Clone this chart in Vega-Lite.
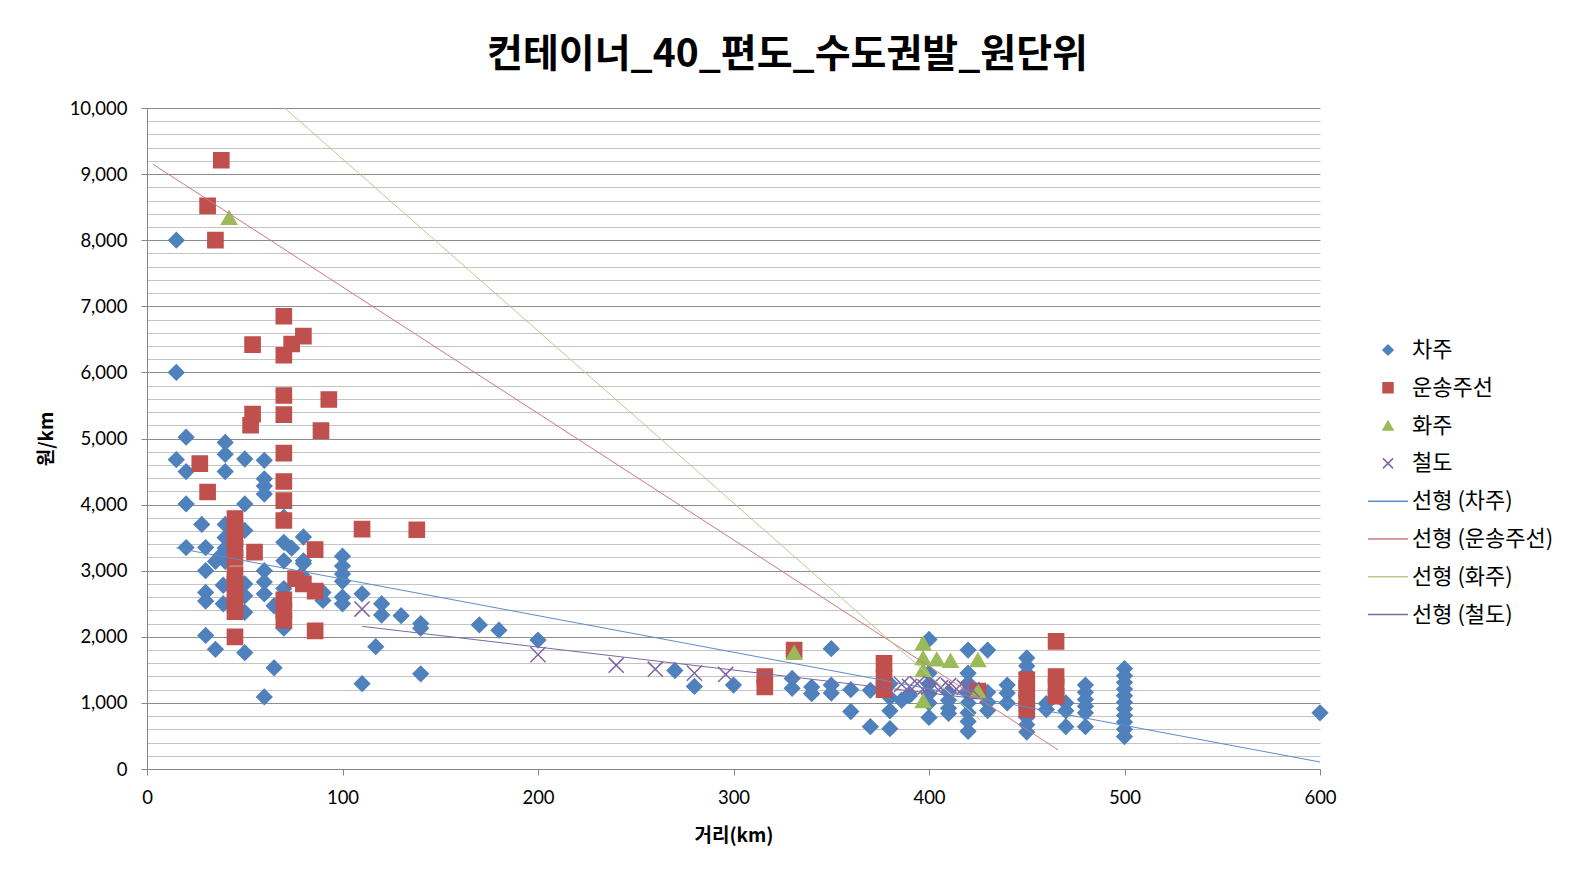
{
"$schema": "https://vega.github.io/schema/vega-lite/v6.json",
"width": 1173, "height": 661,
"autosize": {"type": "none"},
"padding": {"left": 147, "top": 108, "right": 256, "bottom": 108},
"background": "white",
"title": {"text": "컨테이너_40_편도_수도권발_원단위", "font": "Noto Sans CJK KR", "fontSize": 39, "fontWeight": "bold", "color": "#000000", "anchor": "middle", "dx": 54, "offset": 24},
"config": {
  "view": {"stroke": null},
  "axis": {"labelFont": "Lato", "labelFontSize": 18.5, "labelColor": "#000000", "labelFlush": false, "titleFont": "Noto Sans CJK KR", "titleFontSize": 19, "titleFontWeight": "bold", "titleColor": "#000000", "domainColor": "#868686", "tickColor": "#868686", "tickSize": 6},
  "legend": {"orient": "none", "legendX": 1230, "legendY": 231, "labelFont": "Noto Sans CJK KR", "labelFontSize": 22, "labelColor": "#000000", "symbolSize": 100, "symbolStrokeWidth": 1.5, "rowPadding": 15.8, "labelOffset": 13, "padding": 0}
},
"datasets": {
"pts": [
{"s":"차주","d":15,"v":8000},{"s":"차주","d":15,"v":6000},{"s":"차주","d":15,"v":4680},
{"s":"차주","d":20,"v":5020},{"s":"차주","d":20,"v":4500},{"s":"차주","d":20,"v":4010},{"s":"차주","d":20,"v":3350},
{"s":"차주","d":28,"v":3700},
{"s":"차주","d":30,"v":3350},{"s":"차주","d":30,"v":3000},{"s":"차주","d":30,"v":2670},{"s":"차주","d":30,"v":2540},{"s":"차주","d":30,"v":2020},
{"s":"차주","d":35,"v":1810},{"s":"차주","d":35,"v":3140},{"s":"차주","d":38,"v":3240},
{"s":"차주","d":39,"v":2780},{"s":"차주","d":39,"v":2500},
{"s":"차주","d":40,"v":4940},{"s":"차주","d":40,"v":4760},{"s":"차주","d":40,"v":4500},{"s":"차주","d":40,"v":3700},{"s":"차주","d":40,"v":3500},{"s":"차주","d":40,"v":3340},{"s":"차주","d":40,"v":3140},
{"s":"차주","d":50,"v":4690},{"s":"차주","d":50,"v":4010},{"s":"차주","d":50,"v":3610},{"s":"차주","d":50,"v":2800},{"s":"차주","d":50,"v":2620},{"s":"차주","d":50,"v":2370},{"s":"차주","d":50,"v":1760},
{"s":"차주","d":60,"v":4670},{"s":"차주","d":60,"v":4390},{"s":"차주","d":60,"v":4280},{"s":"차주","d":60,"v":4160},{"s":"차주","d":60,"v":3000},{"s":"차주","d":60,"v":2830},{"s":"차주","d":60,"v":2650},{"s":"차주","d":60,"v":1090},
{"s":"차주","d":65,"v":2470},{"s":"차주","d":65,"v":1530},
{"s":"차주","d":70,"v":3810},{"s":"차주","d":70,"v":3430},{"s":"차주","d":70,"v":3150},{"s":"차주","d":70,"v":2730},{"s":"차주","d":70,"v":2130},
{"s":"차주","d":74,"v":3340},{"s":"차주","d":79,"v":2940},
{"s":"차주","d":80,"v":3510},{"s":"차주","d":80,"v":3150},{"s":"차주","d":80,"v":3110},
{"s":"차주","d":90,"v":2670},{"s":"차주","d":90,"v":2550},
{"s":"차주","d":100,"v":3220},{"s":"차주","d":100,"v":3070},{"s":"차주","d":100,"v":2950},{"s":"차주","d":100,"v":2840},{"s":"차주","d":100,"v":2600},{"s":"차주","d":100,"v":2500},
{"s":"차주","d":110,"v":2650},{"s":"차주","d":110,"v":1290},{"s":"차주","d":117,"v":1850},
{"s":"차주","d":120,"v":2500},{"s":"차주","d":120,"v":2330},{"s":"차주","d":130,"v":2320},
{"s":"차주","d":140,"v":2200},{"s":"차주","d":140,"v":2130},{"s":"차주","d":140,"v":1440},
{"s":"차주","d":170,"v":2180},{"s":"차주","d":180,"v":2100},{"s":"차주","d":200,"v":1950},
{"s":"차주","d":270,"v":1490},{"s":"차주","d":280,"v":1250},{"s":"차주","d":300,"v":1270},
{"s":"차주","d":330,"v":1370},{"s":"차주","d":330,"v":1220},
{"s":"차주","d":340,"v":1240},{"s":"차주","d":340,"v":1140},
{"s":"차주","d":350,"v":1820},{"s":"차주","d":350,"v":1270},{"s":"차주","d":350,"v":1150},
{"s":"차주","d":360,"v":1200},{"s":"차주","d":360,"v":870},
{"s":"차주","d":370,"v":1190},{"s":"차주","d":370,"v":640},
{"s":"차주","d":380,"v":1290},{"s":"차주","d":380,"v":1080},{"s":"차주","d":380,"v":880},{"s":"차주","d":380,"v":610},
{"s":"차주","d":386,"v":1040},{"s":"차주","d":390,"v":1110},
{"s":"차주","d":400,"v":1960},{"s":"차주","d":400,"v":1450},{"s":"차주","d":400,"v":1290},{"s":"차주","d":400,"v":1140},{"s":"차주","d":400,"v":1000},{"s":"차주","d":400,"v":780},
{"s":"차주","d":410,"v":1160},{"s":"차주","d":410,"v":1040},{"s":"차주","d":410,"v":920},{"s":"차주","d":410,"v":840},
{"s":"차주","d":420,"v":1800},{"s":"차주","d":420,"v":1450},{"s":"차주","d":420,"v":1300},{"s":"차주","d":420,"v":1150},{"s":"차주","d":420,"v":1000},{"s":"차주","d":420,"v":850},{"s":"차주","d":420,"v":720},{"s":"차주","d":420,"v":570},
{"s":"차주","d":430,"v":1800},{"s":"차주","d":430,"v":1160},{"s":"차주","d":430,"v":1010},{"s":"차주","d":430,"v":885},
{"s":"차주","d":440,"v":1270},{"s":"차주","d":440,"v":1150},{"s":"차주","d":440,"v":1000},
{"s":"차주","d":450,"v":1680},{"s":"차주","d":450,"v":1560},{"s":"차주","d":450,"v":1450},{"s":"차주","d":450,"v":1330},{"s":"차주","d":450,"v":1220},{"s":"차주","d":450,"v":1110},{"s":"차주","d":450,"v":1000},{"s":"차주","d":450,"v":890},{"s":"차주","d":450,"v":780},{"s":"차주","d":450,"v":670},{"s":"차주","d":450,"v":560},
{"s":"차주","d":460,"v":990},{"s":"차주","d":460,"v":900},
{"s":"차주","d":470,"v":1000},{"s":"차주","d":470,"v":880},{"s":"차주","d":470,"v":640},
{"s":"차주","d":480,"v":1270},{"s":"차주","d":480,"v":1160},{"s":"차주","d":480,"v":1050},{"s":"차주","d":480,"v":950},{"s":"차주","d":480,"v":850},{"s":"차주","d":480,"v":640},
{"s":"차주","d":500,"v":1520},{"s":"차주","d":500,"v":1410},{"s":"차주","d":500,"v":1310},{"s":"차주","d":500,"v":1210},{"s":"차주","d":500,"v":1110},{"s":"차주","d":500,"v":1010},{"s":"차주","d":500,"v":910},{"s":"차주","d":500,"v":810},{"s":"차주","d":500,"v":710},{"s":"차주","d":500,"v":600},{"s":"차주","d":500,"v":490},
{"s":"차주","d":600,"v":850},
{"s":"운송주선","d":27,"v":4620},{"s":"운송주선","d":31,"v":8520},{"s":"운송주선","d":31,"v":4190},{"s":"운송주선","d":35,"v":8000},{"s":"운송주선","d":38,"v":9210},
{"s":"운송주선","d":45,"v":3790},{"s":"운송주선","d":45,"v":3640},{"s":"운송주선","d":45,"v":3490},{"s":"운송주선","d":45,"v":3340},{"s":"운송주선","d":45,"v":3200},{"s":"운송주선","d":45,"v":2940},{"s":"운송주선","d":45,"v":2800},{"s":"운송주선","d":45,"v":2650},{"s":"운송주선","d":45,"v":2500},{"s":"운송주선","d":45,"v":2380},{"s":"운송주선","d":45,"v":2000},
{"s":"운송주선","d":53,"v":5200},{"s":"운송주선","d":54,"v":6420},{"s":"운송주선","d":54,"v":5370},{"s":"운송주선","d":55,"v":3280},
{"s":"운송주선","d":70,"v":6850},{"s":"운송주선","d":70,"v":6260},{"s":"운송주선","d":70,"v":5650},{"s":"운송주선","d":70,"v":5360},{"s":"운송주선","d":70,"v":4780},{"s":"운송주선","d":70,"v":4350},{"s":"운송주선","d":70,"v":4060},{"s":"운송주선","d":70,"v":3760},{"s":"운송주선","d":70,"v":2560},{"s":"운송주선","d":70,"v":2400},{"s":"운송주선","d":70,"v":2250},
{"s":"운송주선","d":74,"v":6430},{"s":"운송주선","d":76,"v":2880},{"s":"운송주선","d":80,"v":6550},{"s":"운송주선","d":80,"v":2800},
{"s":"운송주선","d":86,"v":3320},{"s":"운송주선","d":86,"v":2690},{"s":"운송주선","d":86,"v":2090},
{"s":"운송주선","d":89,"v":5120},{"s":"운송주선","d":93,"v":5590},{"s":"운송주선","d":110,"v":3630},{"s":"운송주선","d":138,"v":3620},
{"s":"운송주선","d":316,"v":1400},{"s":"운송주선","d":316,"v":1240},{"s":"운송주선","d":331,"v":1800},
{"s":"운송주선","d":377,"v":1600},{"s":"운송주선","d":377,"v":1370},{"s":"운송주선","d":377,"v":1200},
{"s":"운송주선","d":425,"v":1180},
{"s":"운송주선","d":450,"v":1350},{"s":"운송주선","d":450,"v":1200},{"s":"운송주선","d":450,"v":1050},{"s":"운송주선","d":450,"v":900},
{"s":"운송주선","d":465,"v":1930},{"s":"운송주선","d":465,"v":1400},{"s":"운송주선","d":465,"v":1250},{"s":"운송주선","d":465,"v":1100},
{"s":"화주","d":42,"v":8340},{"s":"화주","d":331,"v":1760},
{"s":"화주","d":397,"v":1900},{"s":"화주","d":397,"v":1680},{"s":"화주","d":397,"v":1500},{"s":"화주","d":397,"v":1030},
{"s":"화주","d":404,"v":1660},{"s":"화주","d":411,"v":1640},{"s":"화주","d":425,"v":1650},{"s":"화주","d":425,"v":1180},
{"s":"철도","d":110,"v":2420},{"s":"철도","d":200,"v":1730},{"s":"철도","d":240,"v":1570},{"s":"철도","d":260,"v":1510},{"s":"철도","d":280,"v":1450},{"s":"철도","d":296,"v":1430},
{"s":"철도","d":386,"v":1280},{"s":"철도","d":390,"v":1250},{"s":"철도","d":394,"v":1290},{"s":"철도","d":398,"v":1240},{"s":"철도","d":402,"v":1280},{"s":"철도","d":406,"v":1230},{"s":"철도","d":410,"v":1260},{"s":"철도","d":414,"v":1210},{"s":"철도","d":418,"v":1240},{"s":"철도","d":422,"v":1200}
],
"trend": [
{"s":"선형 (차주)","d":15,"v":3344},{"s":"선형 (차주)","d":600,"v":106},
{"s":"선형 (운송주선)","d":3,"v":9150},{"s":"선형 (운송주선)","d":466,"v":290},
{"s":"선형 (화주)","d":42,"v":10740},{"s":"선형 (화주)","d":426,"v":744},
{"s":"선형 (철도)","d":110,"v":2158},{"s":"선형 (철도)","d":425,"v":1062}
]
},
"layer": [
{
  "data": {"name": "pts"},
  "mark": {"type": "point", "filled": true, "opacity": 1, "size": 230, "strokeWidth": 1.5},
  "encoding": {
    "x": {"field": "d", "type": "quantitative", "scale": {"domain": [0, 600], "nice": false},
      "axis": {"title": "거리(km)", "values": [0,100,200,300,400,500,600], "tickCount": 20, "grid": false, "labelPadding": 13, "titlePadding": 20}},
    "y": {"field": "v", "type": "quantitative", "scale": {"domain": [0, 10000], "nice": false},
      "axis": {"title": "원/km", "values": [0,200,400,600,800,1000,1200,1400,1600,1800,2000,2200,2400,2600,2800,3000,3200,3400,3600,3800,4000,4200,4400,4600,4800,5000,5200,5400,5600,5800,6000,6200,6400,6600,6800,7000,7200,7400,7600,7800,8000,8200,8400,8600,8800,9000,9200,9400,9600,9800,10000],
        "tickCount": 100,
        "labelExpr": "datum.value % 1000 === 0 ? format(datum.value, ',') : ''",
        "grid": true,
        "gridColor": {"condition": {"test": "datum.value % 1000 === 0", "value": "#8c8c8c"}, "value": "#c4c4c4"},
        "tickColor": {"condition": {"test": "datum.value % 1000 === 0", "value": "#868686"}, "value": "transparent"},
        "labelPadding": 14, "titlePadding": 13}},
    "shape": {"field": "s", "type": "nominal",
      "scale": {"domain": ["차주","운송주선","화주","철도","선형 (차주)","선형 (운송주선)","선형 (화주)","선형 (철도)"],
                "range": ["diamond","square","triangle-up","M-1,-1L1,1M1,-1L-1,1","M-4,0L4,0","M-4,0L4,0","M-4,0L4,0","M-4,0L4,0"]},
      "legend": {"title": null}},
    "fill": {"field": "s", "type": "nominal",
      "scale": {"domain": ["차주","운송주선","화주","철도","선형 (차주)","선형 (운송주선)","선형 (화주)","선형 (철도)"],
                "range": ["#4F81BD","#C0504D","#9BBB59","#8064A2","#5B8CCB","#CC7A7D","#B9CC8E","#7D67A6"]},
      "legend": {"title": null}},
    "stroke": {"field": "s", "type": "nominal",
      "scale": {"domain": ["차주","운송주선","화주","철도","선형 (차주)","선형 (운송주선)","선형 (화주)","선형 (철도)"],
                "range": ["#4F81BD","#C0504D","#9BBB59","#8064A2","#5B8CCB","#CC7A7D","#B9CC8E","#7D67A6"]},
      "legend": {"title": null}}
  }
},
{
  "data": {"name": "trend"},
  "mark": {"type": "line", "strokeWidth": 1, "clip": true},
  "encoding": {
    "x": {"field": "d", "type": "quantitative"},
    "y": {"field": "v", "type": "quantitative"},
    "stroke": {"field": "s", "type": "nominal", "legend": null},
    "detail": {"field": "s"}
  }
}
]
}
